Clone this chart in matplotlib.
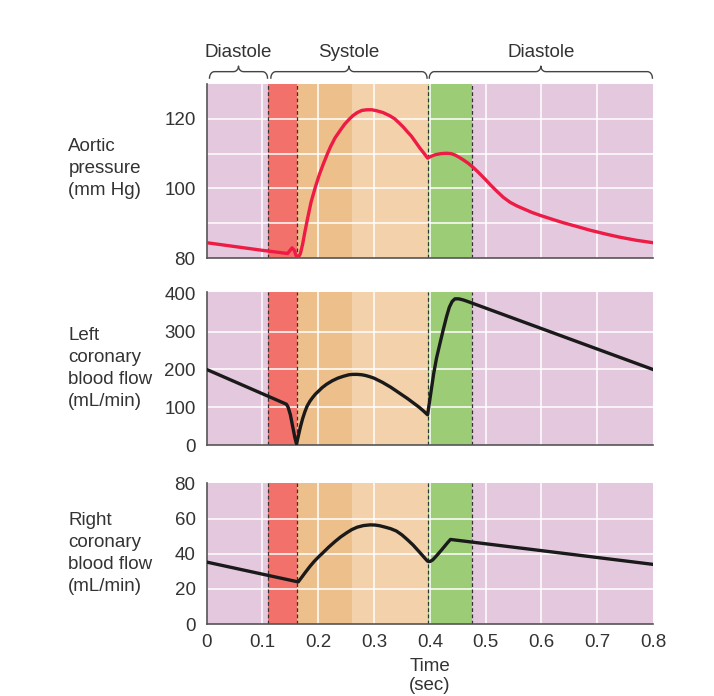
import numpy as np
import matplotlib
matplotlib.use("Agg")
import matplotlib.pyplot as plt

plt.rcParams['font.family'] = ['Liberation Sans', 'DejaVu Sans']

# phase boundaries (sec) and colours
phase_edges = [0.0, 0.11, 0.161, 0.26, 0.396, 0.475, 0.8]
phase_colors = ['#e4c9de', '#f2716a', '#ecbf8b', '#f3d1aa', '#9ccd76', '#e4c9de']
dashed_at = [0.11, 0.161, 0.396, 0.475]

# braces above the chart
brace_spans = [(0.005, 0.109), (0.115, 0.395), (0.399, 0.799)]
brace_labels = ['Diastole', 'Systole', 'Diastole']

# aortic pressure (mm Hg)
aortic_t = [0, 0.05, 0.10, 0.145, 0.150, 0.153, 0.157, 0.160, 0.164, 0.168, 0.172,
            0.176, 0.181, 0.187, 0.195, 0.202, 0.209, 0.216, 0.222, 0.230, 0.239,
            0.247, 0.255, 0.262, 0.270, 0.278, 0.287, 0.296, 0.305, 0.316, 0.328,
            0.337, 0.345, 0.352, 0.358, 0.367, 0.375, 0.383, 0.390, 0.396, 0.402,
            0.410, 0.420, 0.430, 0.438, 0.445, 0.452, 0.46, 0.469, 0.478, 0.489,
            0.50, 0.51, 0.52, 0.532, 0.544, 0.557, 0.57, 0.583, 0.597, 0.62,
            0.64, 0.665, 0.687, 0.715, 0.74, 0.77, 0.8]
aortic_p = [84.4, 83.3, 82.2, 81.3, 82.3, 82.9, 82.2, 80.8, 80.1, 81.3, 84.0,
            87.5, 91.5, 96.0, 100.5, 104.0, 107, 109.8, 112, 114.5, 116.6,
            118.4, 119.8, 120.9, 121.8, 122.4, 122.6, 122.6, 122.3, 121.8, 120.9,
            120.0, 118.8, 117.7, 116.6, 115.0, 113.2, 111.4, 110.0, 108.7, 109.2,
            109.7, 110.0, 110.1, 110.0, 109.6, 109.0, 108.2, 107.2, 106, 104.3,
            102.5, 100.8, 99.2, 97.4, 96, 94.9, 94, 93.1, 92.3, 91.1,
            90.1, 89.0, 88, 86.9, 86.0, 85.1, 84.4]

# left coronary blood flow (mL/min)
left_t = [0, 0.143, 0.146, 0.150, 0.154, 0.158, 0.161, 0.164, 0.168, 0.172, 0.176,
          0.180, 0.185, 0.190, 0.195, 0.200, 0.207, 0.215, 0.225, 0.235, 0.245,
          0.255, 0.262, 0.270, 0.278, 0.285, 0.292, 0.300, 0.315, 0.33, 0.345,
          0.36, 0.37, 0.38, 0.388, 0.396, 0.399, 0.403, 0.407, 0.412, 0.418,
          0.424, 0.430, 0.435, 0.440, 0.445, 0.452, 0.460, 0.466, 0.8]
left_f = [200, 108, 100, 80, 50, 20, 3, 22, 48, 70, 88,
          103, 116, 126, 135, 142, 152, 161, 170, 177, 182,
          186, 187, 187, 186, 184, 181, 177, 166, 153, 138,
          123, 112, 101, 91, 80, 110, 150, 190, 230, 268,
          305, 340, 365, 380, 387, 387, 384, 381, 200]

# right coronary blood flow (mL/min)
right_t = [0, 0.164, 0.170, 0.177, 0.185, 0.193, 0.201, 0.209, 0.219, 0.23, 0.24,
           0.251, 0.26, 0.27, 0.281, 0.293, 0.302, 0.31, 0.32, 0.33, 0.34,
           0.35, 0.36, 0.37, 0.38, 0.387, 0.392, 0.396, 0.400, 0.405, 0.41,
           0.415, 0.421, 0.427, 0.432, 0.437, 0.8]
right_f = [35.3, 24, 26.5, 29.5, 32.8, 35.8, 38.4, 40.8, 43.9, 47, 49.6,
           52, 53.8, 55.2, 56.1, 56.5, 56.4, 56, 55.2, 54.3, 53,
           50.8, 48, 45.0, 41.5, 39.0, 37.2, 35.8, 35.6, 36.5, 38.2,
           40, 42.2, 44.5, 46.4, 48.2, 34]

fig = plt.figure(figsize=(7.14, 6.96), dpi=100)
left, width = 0.2895, 0.625
ax1 = fig.add_axes([left, 0.6293, width, 0.25])
ax2 = fig.add_axes([left, 0.3606, width, 0.2198])
ax3 = fig.add_axes([left, 0.1034, width, 0.203])

panels = [
    (ax1, (80, 130), [80, 100, 120], [90, 100, 110, 120], aortic_t, aortic_p, '#ee1b45',
     'Aortic\npressure\n(mm Hg)', 0.515),
    (ax2, (0, 405), [0, 100, 200, 300, 400], [100, 200, 300], left_t, left_f, '#1a1a1a',
     'Left\ncoronary\nblood flow\n(mL/min)', 0.50),
    (ax3, (0, 80.5), [0, 20, 40, 60, 80], [20, 40, 60], right_t, right_f, '#1a1a1a',
     'Right\ncoronary\nblood flow\n(mL/min)', 0.50),
]

for ax, ylim, yticks, ygrid, xs, ys, col, label, ly in panels:
    ax.set_xlim(0, 0.8)
    ax.set_ylim(*ylim)
    for i, c in enumerate(phase_colors):
        ax.axvspan(phase_edges[i], phase_edges[i + 1], color=c, lw=0, zorder=0)
    for g in ygrid:
        ax.axhline(g, color='white', lw=1.3, alpha=0.85, zorder=1)
    for g in np.arange(0.1, 0.75, 0.1):
        ax.axvline(g, color='white', lw=1.3, alpha=0.85, zorder=1)
    for d in dashed_at:
        ax.axvline(d, color='#333333', lw=0.9, ls=(0, (3, 2)), zorder=2)
    ax.plot(xs, ys, color=col, lw=2.4, zorder=3, solid_joinstyle='round')
    ax.set_yticks(yticks)
    ax.tick_params(axis='y', length=0, pad=8, labelsize=13.5, labelcolor='#333333')
    ax.tick_params(axis='x', length=0)
    for s in ['top', 'right']:
        ax.spines[s].set_visible(False)
    for s in ['left', 'bottom']:
        ax.spines[s].set_color('#555555')
        ax.spines[s].set_linewidth(1.2)
    ax.text(-0.31, ly, label, transform=ax.transAxes, ha='left', va='center',
            fontsize=13.5, color='#333333', linespacing=1.38)

ax1.set_xticks([])
ax2.set_xticks([])
ax3.set_xticks(np.arange(0, 0.81, 0.1))
ax3.set_xticklabels(['0', '0.1', '0.2', '0.3', '0.4', '0.5', '0.6', '0.7', '0.8'])
ax3.tick_params(axis='x', labelsize=13.5, labelcolor='#333333', pad=7)
ax3.set_xlabel('Time\n(sec)', fontsize=13.5, color='#333333', linespacing=1.15, labelpad=5)

# braces
tr = ax1.get_xaxis_transform()
yb, yh, yt = 1.034, 1.071, 1.103
r = 0.009
th = np.linspace(0, np.pi / 2, 12)
for (x0, x1), lab in zip(brace_spans, brace_labels):
    xm = (x0 + x1) / 2
    seg1x = x0 + r * (1 - np.cos(th))
    seg1y = yb + (yh - yb) * np.sin(th)
    seg2x = xm - r + r * np.sin(th)
    seg2y = yh + (yt - yh) * (1 - np.cos(th))
    bx = np.concatenate([seg1x, seg2x, (2 * xm - seg2x)[::-1], (2 * xm - seg1x)[::-1]])
    by = np.concatenate([seg1y, seg2y, seg2y[::-1], seg1y[::-1]])
    ax1.plot(bx, by, color='#444444', lw=1.0, transform=tr, clip_on=False)
    ax1.text(xm, 1.18, lab, transform=tr, ha='center', va='center', fontsize=13.5,
             color='#333333')

fig.savefig('out.png', dpi=100)
